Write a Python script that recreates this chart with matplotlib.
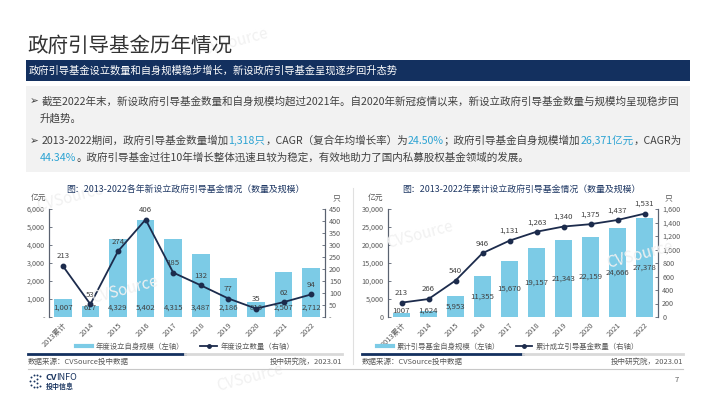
import matplotlib
matplotlib.use("Agg")
import matplotlib.pyplot as plt
from matplotlib.lines import Line2D
from matplotlib.patches import Rectangle

plt.rcParams['font.family'] = ['Noto Sans CJK SC', 'DejaVu Sans']

# data
years = ["2013累计", "2014", "2015", "2016", "2017", "2018", "2019", "2020", "2021", "2022"]
new_scale = [1007, 617, 4329, 5402, 4315, 3487, 2186, 816, 2507, 2712]
new_count = [213, 53, 274, 406, 185, 132, 77, 35, 62, 94]
cum_scale = [1007, 1624, 5953, 11355, 15670, 19157, 21343, 22159, 24666, 27378]
cum_count = [213, 266, 540, 946, 1131, 1263, 1340, 1375, 1437, 1531]

W, H = 710, 399
NAVY = '#13305f'
BAR = '#7ccbe6'
LINE = '#1c2b4c'
GRAY = '#595959'
HL = '#2ba3d3'

fig = plt.figure(figsize=(W / 100, H / 100), dpi=100)


def fx(x):
    return x / W


def fy(y):
    return 1 - y / H


def rect(x0, y0, x1, y1, color, z=0):
    fig.patches.append(Rectangle((fx(x0), fy(y1)), fx(x1 - x0), (y1 - y0) / H,
                                 transform=fig.transFigure, color=color, zorder=z, lw=0))


def hline(x0, x1, y, color, lw):
    fig.lines.append(Line2D([fx(x0), fx(x1)], [fy(y), fy(y)], transform=fig.transFigure,
                            color=color, lw=lw))


# faint watermarks
for wx, wy in [(235, 42), (70, 198), (125, 290), (420, 235), (640, 255), (250, 378)]:
    fig.text(fx(wx), fy(wy), "CVSource", fontsize=11, color='#f1f1f1', rotation=15,
             ha='center', va='center', zorder=0.5)

# header
fig.text(fx(27), fy(46), "政府引导基金历年情况", fontsize=14.8, color='#333333', va='center')
rect(26, 60, 690, 81, NAVY, z=1)
fig.text(fx(29), fy(70.5), "政府引导基金设立数量和自身规模稳步增长，新设政府引导基金呈现逐步回升态势",
         fontsize=7.4, color='white', va='center', zorder=2)

rect(26, 86, 690, 172, '#f2f2f2', z=1)

renderer = fig.canvas.get_renderer()


def rich_line(x, y, segs, size=7.6, **kw):
    for s, c in segs:
        t = fig.text(fx(x), fy(y), s, fontsize=size, color=c, va='center', ha='left', zorder=2, **kw)
        x += t.get_window_extent(renderer).width


TXT = '#404040'
rich_line(30, 101, [("➢ ", TXT), ("截至2022年末，新设政府引导基金数量和自身规模均超过2021年。自2020年新冠疫情以来，新设立政府引导基金数量与规模均呈现稳步回", TXT)])
rich_line(40, 118, [("升趋势。", TXT)])
rich_line(30, 141, [("➢ ", TXT), ("2013-2022期间，政府引导基金数量增加", TXT), ("1,318只", HL),
                    ("，CAGR（复合年均增长率）为", TXT), ("24.50%", HL),
                    ("；政府引导基金自身规模增加", TXT), ("26,371亿元", HL), ("，CAGR为", TXT)])
rich_line(40, 158, [("44.34%", HL), ("。政府引导基金过往10年增长整体迅速且较为稳定，有效地助力了国内私募股权基金领域的发展。", TXT)])


def make_chart(x0, x1, bars, counts, ymax_l, step_l, ymax_r, step_r, dash_zero,
               title, tx, leg_labels, legx, unit_lx, unit_rx, bar_mid):
    ax = fig.add_axes([fx(x0), fy(317), fx(x1 - x0), (317 - 209) / H])
    ax2 = ax.twinx()
    xs = range(len(years))
    ax.bar(xs, bars, width=0.64, color=BAR, zorder=2)
    ax2.plot(xs, counts, color=LINE, lw=1.3, marker='o', ms=3.2, zorder=3)
    ax.set_xlim(-0.5, len(years) - 0.5)
    ax.set_ylim(0, ymax_l)
    ax2.set_ylim(0, ymax_r)
    ax.set_yticks(range(0, ymax_l + 1, step_l))
    ax2.set_yticks(range(0, ymax_r + 1, step_r))
    if dash_zero:
        fmt = lambda v, p: '-' if v == 0 else f'{v:,.0f}'
    else:
        fmt = lambda v, p: f'{v:,.0f}'
    ax.yaxis.set_major_formatter(fmt)
    ax2.yaxis.set_major_formatter(fmt)
    ax.set_xticks(list(xs))
    ax.set_xticklabels(years, rotation=45, ha='right', rotation_mode='anchor')
    for a in (ax, ax2):
        for s in ('top', 'bottom'):
            a.spines[s].set_visible(False)
        a.spines['left'].set_color('#5a6270')
        a.spines['right'].set_color('#5a6270')
        a.spines['left'].set_linewidth(0.8)
        a.spines['right'].set_linewidth(0.8)
        a.tick_params(axis='y', direction='in', length=2.5, width=0.6, color='#5a6270',
                      labelsize=5.2, labelcolor=GRAY, pad=3)
        a.patch.set_visible(False)
    ax.tick_params(axis='x', length=0, labelsize=5.3, labelcolor=GRAY, pad=3)
    for i, v in enumerate(bars):
        yv = v / 2 if bar_mid else ymax_l * 0.085
        if bar_mid:
            yv = max(yv, ymax_l * 0.06)
        ax.text(i, yv, f'{v:,}' if i > 0 or not bar_mid else str(v), ha='center', va='center',
                fontsize=5.6, color='#404040', zorder=4)
    for i, v in enumerate(counts):
        ax2.annotate(f'{v:,}', (i, v), xytext=(0, 4), textcoords='offset points',
                     ha='center', va='bottom', fontsize=5.6, color='#404040')
    fig.text(fx(tx), fy(190), title, fontsize=6.4, color='#1f3864', ha='center', va='center')
    fig.text(fx(unit_lx), fy(198), "亿元", fontsize=5.6, color=GRAY, ha='center', va='center')
    fig.text(fx(unit_rx), fy(198), "只", fontsize=5.6, color=GRAY, ha='center', va='center')
    handles = [Line2D([], [], color=BAR, lw=3),
               Line2D([], [], color=LINE, lw=1.3, marker='o', ms=2.5)]
    fig.legend(handles, leg_labels, loc='center', bbox_to_anchor=(fx(legx), fy(347)),
               ncol=2, frameon=False, fontsize=5.3, labelcolor=GRAY, handlelength=2.2,
               columnspacing=2.2, handletextpad=0.5)
    return ax


make_chart(49, 325, new_scale, new_count, 6000, 1000, 450, 50, True,
           "图：2013-2022各年新设立政府引导基金情况（数量及规模）", 185,
           ["年度设立自身规模（左轴）", "年度设立数量（右轴）"], 185, 38, 336, False)
make_chart(388, 658, cum_scale, cum_count, 30000, 5000, 1600, 200, False,
           "图：2013-2022年累计设立政府引导基金情况（数量及规模）", 521,
           ["累计引导基金自身规模（左轴）", "累计成立引导基金数量（右轴）"], 508, 375, 668, True)

# panel separator
fig.lines.append(Line2D([fx(353), fx(353)], [fy(188), fy(364)], transform=fig.transFigure,
                        color='#e0e0e0', lw=0.8))

# bottom rules and sources
hline(28, 185, 354, NAVY, 2)
hline(185, 342, 354, '#d9d9d9', 2)
hline(362, 523, 354, NAVY, 2)
hline(523, 683, 354, '#d9d9d9', 2)
for sx, ex in [(28, 342), (362, 683)]:
    fig.text(fx(sx), fy(362), "数据来源：CVSource投中数据", fontsize=5.4, color=GRAY, va='center')
    fig.text(fx(ex), fy(362), "投中研究院，2023.01", fontsize=5.4, color=GRAY, va='center', ha='right')
hline(28, 683, 368.5, '#c8c8c8', 0.8)

# logo: dotted burst + name
dots = [(-6, -4), (-3, -6), (0, -6), (3, -5), (-7, 0), (-6, 4), (-3, 6), (0, 6), (3, 5), (-3, 0), (0, -2), (0, 2)]
fig.lines.append(Line2D([fx(37 + d[0]) for d in dots], [fy(381 + d[1]) for d in dots],
                        transform=fig.transFigure, ls='none', marker='o', ms=1.4,
                        color='#1a3560', mec='none'))
rich_line(46, 377, [("CV", '#1a3560')], size=6.5, fontweight='bold')
fig.text(fx(56.5), fy(377), "INFO", fontsize=6.5, color='#1a3560', va='center')
fig.text(fx(46), fy(386.5), "投中信息", fontsize=5, color='#1a3560', fontweight='bold', va='center')
fig.text(fx(677), fy(380), "7", fontsize=5.5, color=GRAY, va='center', ha='center')

fig.savefig("out.png", dpi=100)
